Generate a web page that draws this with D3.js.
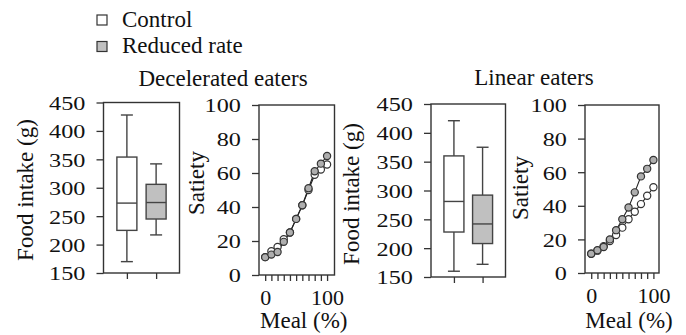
<!DOCTYPE html>
<html>
<head>
<meta charset="utf-8">
<script src="https://cdn.jsdelivr.net/npm/d3@7"></script>
<style>
  body { margin: 0; background: #fff; }
  svg { display: block; font-family: "Liberation Serif", "Times New Roman", serif; fill: #111; }
</style>
</head>
<body>
<div id="canvas"><svg width="686" height="335"></svg></div>
<script>
// groups and box stats: [min, q1, median, q3, max]
var groups = ["Control", "Reduced rate"];
var decelControlBox = [170, 225, 273, 354, 428];
var decelReducedBox = [217, 245, 274, 306, 342];
var linearControlBox = [160, 228, 281, 360, 421];
var linearReducedBox = [172, 208, 242, 292, 375];

// satiety curves
var mealPct = [0, 10, 20, 30, 40, 50, 60, 70, 80, 90, 100];
var decelControlSatiety = [10.5, 14, 16.5, 21, 25, 33, 41, 50, 59, 62, 65];
var decelReducedSatiety = [10.5, 12, 13.5, 19.5, 25, 33, 41, 51, 61, 65.5, 70];
var linearControlSatiety = [11.5, 13.3, 16, 19, 22.6, 27, 32, 36.5, 41, 46, 51];
var linearReducedSatiety = [11.5, 13.5, 15.5, 20, 25.5, 32, 39, 48, 57.5, 62, 67.3];

var intakeTicks = [150, 200, 250, 300, 350, 400, 450];
var satietyTicks = [0, 20, 40, 60, 80, 100];
var mealTickLabels = [0, 100];

var fills = {"Control": "#ffffff", "Reduced rate": "#c0c0c0"};
var ink = "#333";

var svg = d3.select("#canvas svg");

// legend
var legend = svg.append("g");
groups.forEach(function (g, i) {
    legend.append("rect")
        .attr("x", 97).attr("y", 15 + i * 26.5)
        .attr("width", 10).attr("height", 10)
        .attr("fill", fills[g]).attr("stroke", ink).attr("stroke-width", 1.2);
    legend.append("text")
        .attr("x", 122).attr("y", 26.5 + i * 26.5)
        .attr("font-size", 23)
        .text(g);
});

// panel titles
svg.append("text").attr("x", 223).attr("y", 86).attr("text-anchor", "middle")
    .attr("font-size", 23).text("Decelerated eaters");
svg.append("text").attr("x", 534).attr("y", 85).attr("text-anchor", "middle")
    .attr("font-size", 23).text("Linear eaters");

function styleYAxis(g) {
    g.select(".domain").remove();
    g.selectAll(".tick line").attr("stroke", ink).attr("stroke-width", 1.3);
    g.selectAll(".tick text")
        .attr("font-family", "Liberation Serif")
        .attr("font-size", 22)
        .attr("fill", "#111")
        .attr("dy", "0.36em")
        .attr("transform", "scale(1.1,0.88)");
}

function frame(p) {
    svg.append("rect")
        .attr("x", p.left).attr("y", p.top)
        .attr("width", p.right - p.left).attr("height", p.bottom - p.top)
        .attr("fill", "none").attr("stroke", ink).attr("stroke-width", 1.4);
}

function drawBoxPanel(p, boxes) {
    var x = d3.scalePoint().domain(groups).range([p.left, p.right]).padding(0.8);
    var y = d3.scaleLinear().domain([150, 450]).range([p.bottom, p.top]);

    svg.append("g")
        .attr("transform", "translate(" + p.left + ",0)")
        .call(d3.axisLeft(y).tickValues(intakeTicks).tickSize(7).tickPadding(9.5))
        .call(styleYAxis);

    var xa = svg.append("g")
        .attr("transform", "translate(0," + p.bottom + ")")
        .call(d3.axisBottom(x).tickSize(6).tickFormat(""));
    xa.select(".domain").remove();
    xa.selectAll(".tick line").attr("stroke", ink).attr("stroke-width", 1.3);

    var bw = 20, cap = 12;
    groups.forEach(function (gname, i) {
        var s = boxes[i], cx = x(gname);
        var g = svg.append("g").attr("stroke", "#444").attr("stroke-width", 1.4);
        g.append("line").attr("x1", cx).attr("x2", cx).attr("y1", y(s[0])).attr("y2", y(s[1]));
        g.append("line").attr("x1", cx).attr("x2", cx).attr("y1", y(s[3])).attr("y2", y(s[4]));
        g.append("line").attr("x1", cx - cap / 2).attr("x2", cx + cap / 2).attr("y1", y(s[0])).attr("y2", y(s[0]));
        g.append("line").attr("x1", cx - cap / 2).attr("x2", cx + cap / 2).attr("y1", y(s[4])).attr("y2", y(s[4]));
        g.append("rect")
            .attr("x", cx - bw / 2).attr("y", y(s[3]))
            .attr("width", bw).attr("height", y(s[1]) - y(s[3]))
            .attr("fill", fills[gname]);
        g.append("line").attr("x1", cx - bw / 2).attr("x2", cx + bw / 2).attr("y1", y(s[2])).attr("y2", y(s[2]));
    });

    frame(p);

    svg.append("text")
        .attr("transform", "translate(" + p.labelX + "," + p.labelY + ") rotate(-90)")
        .attr("text-anchor", "middle").attr("font-size", 23)
        .text("Food intake (g)");
}

function drawCurvePanel(p, control, reduced) {
    var x = d3.scaleLinear().domain(p.xDomain).range([p.left, p.right]);
    var y = d3.scaleLinear().domain([0, 100]).range([p.bottom, p.top]);

    svg.append("g")
        .attr("transform", "translate(" + p.left + ",0)")
        .call(d3.axisLeft(y).tickValues(satietyTicks).tickSize(7).tickPadding(9.5))
        .call(styleYAxis);

    var xa = svg.append("g")
        .attr("transform", "translate(0," + p.bottom + ")")
        .call(d3.axisBottom(x).tickValues(mealPct).tickSize(6)
            .tickFormat(function (d) { return mealTickLabels.indexOf(d) >= 0 ? d : ""; }));
    xa.select(".domain").remove();
    xa.selectAll(".tick line").attr("stroke", ink).attr("stroke-width", 1.3);
    xa.selectAll(".tick text")
        .attr("font-family", "Liberation Serif").attr("font-size", 22)
        .attr("fill", "#111").attr("dy", "0.95em");

    var line = d3.line()
        .x(function (d, i) { return x(mealPct[i]); })
        .y(function (d) { return y(d); });

    [control, reduced].forEach(function (series) {
        svg.append("path").datum(series)
            .attr("d", line).attr("fill", "none")
            .attr("stroke", "#222").attr("stroke-width", 1.1);
    });

    // control (white) first, reduced rate (grey) on top
    [[control, "#ffffff"], [reduced, "#aeaeae"]].forEach(function (s) {
        svg.append("g").selectAll("circle")
            .data(s[0]).enter().append("circle")
            .attr("cx", function (d, i) { return x(mealPct[i]); })
            .attr("cy", function (d) { return y(d); })
            .attr("r", 3.6)
            .attr("fill", s[1])
            .attr("stroke", "#333").attr("stroke-width", 1.2);
    });

    frame(p);

    svg.append("text")
        .attr("transform", "translate(" + p.labelX + "," + p.labelY + ") rotate(-90)")
        .attr("text-anchor", "middle").attr("font-size", 23)
        .text("Satiety");

    svg.append("text")
        .attr("x", (p.left + p.right) / 2 + 7).attr("y", 328)
        .attr("text-anchor", "middle").attr("font-size", 23)
        .text("Meal (%)");
}

drawBoxPanel({left: 103.5, right: 179.5, top: 102.5, bottom: 273, labelX: 33, labelY: 190},
    [decelControlBox, decelReducedBox]);
drawCurvePanel({left: 259, right: 334.5, top: 105, bottom: 275, xDomain: [-10, 112], labelX: 204, labelY: 183},
    decelControlSatiety, decelReducedSatiety);
drawBoxPanel({left: 431, right: 505.5, top: 104, bottom: 277, labelX: 359, labelY: 194},
    [linearControlBox, linearReducedBox]);
drawCurvePanel({left: 585, right: 659, top: 105, bottom: 273, xDomain: [-10, 109], labelX: 528, labelY: 188},
    linearControlSatiety, linearReducedSatiety);
</script>
</body>
</html>
